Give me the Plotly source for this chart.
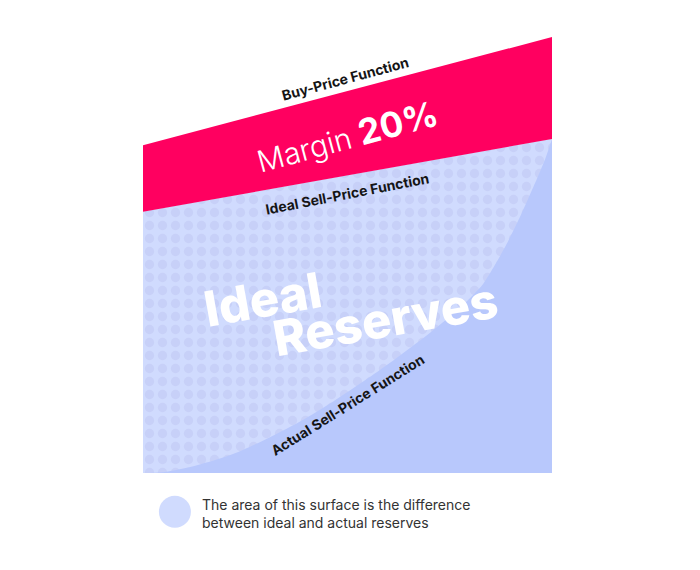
import plotly.graph_objects as go

# values (x: 0-100 across the chart, y: 0-100 price scale)
edge_x = [0, 100]
buy_price = [75.2, 100]
ideal_sell = [59.9, 76.6]

actual_x = [0, 4.9, 13.2, 21.0, 29.3, 38.4, 46.5, 54.8, 62.0, 70.5, 76.0, 80.8,
            83.2, 86.1, 88.9, 91.8, 94.3, 96.5, 98.4, 100]
actual_sell = [0, 0.2, 1.8, 4.0, 7.4, 11.8, 16.4, 21.6, 26.4, 32.4, 36.7, 40.9,
               43.4, 47.8, 52.5, 58.0, 63.2, 67.9, 72.2, 76.6]

PINK = "#FF0060"
LIGHT = "#D0DBFE"
DOTS = "#C7D0F8"
DARK = "#B8C8FC"
FONT = "Inter"

fig = go.Figure()

# whole area under the ideal sell-price line (actual reserves)
fig.add_trace(go.Scatter(x=edge_x, y=ideal_sell, mode="lines", line=dict(width=0),
                         fill="tozeroy", fillcolor=DARK, hoverinfo="skip"))
# actual sell-price curve
fig.add_trace(go.Scatter(x=actual_x, y=actual_sell, mode="lines",
                         line=dict(width=0, shape="spline", smoothing=0.8),
                         hoverinfo="skip"))
# difference between ideal and actual (dotted)
fig.add_trace(go.Scatter(x=edge_x, y=ideal_sell, mode="lines", line=dict(width=0),
                         fill="tonexty", fillcolor=LIGHT,
                         fillpattern=dict(shape=".", bgcolor=LIGHT, fgcolor=DOTS,
                                          size=13, solidity=0.4, fillmode="replace"),
                         hoverinfo="skip"))
# margin band
fig.add_trace(go.Scatter(x=edge_x, y=buy_price, mode="lines", line=dict(width=0),
                         fill="tonexty", fillcolor=PINK, hoverinfo="skip"))

dark_txt = dict(family=FONT, size=14, color="#151515", weight=700)

fig.add_annotation(x=49.4, y=90.4, text="Buy-Price Function", textangle=-15,
                   showarrow=False, font=dark_txt)
fig.add_annotation(x=49.9, y=77.3,
                   text="<span style='font-size:30px'>Margin</span> <b style='font-size:35px'>20%</b>",
                   textangle=-15, showarrow=False,
                   font=dict(family=FONT, size=30, color="white", weight=300))
fig.add_annotation(x=49.9, y=64.2, text="Ideal Sell-Price Function", textangle=-11,
                   showarrow=False, font=dark_txt)
fig.add_annotation(x=29.3, y=39.7, text="Ideal", textangle=-10, showarrow=False,
                   font=dict(family=FONT, size=49, color="white", weight=800))
fig.add_annotation(x=59.2, y=35.1, text="Reserves", textangle=-10, showarrow=False,
                   font=dict(family=FONT, size=49, color="white", weight=800))
fig.add_annotation(x=50.1, y=15.6, text="Actual Sell-Price Function", textangle=-32,
                   showarrow=False, font=dark_txt)

# legend swatch + note
fig.add_shape(type="circle", xref="paper", yref="paper", xsizemode="pixel", ysizemode="pixel",
              xanchor=0.078, yanchor=-0.089, x0=-16, x1=16, y0=-16, y1=16,
              fillcolor=LIGHT, line=dict(width=0))
fig.add_annotation(xref="paper", yref="paper", x=0.139, y=-0.092, xanchor="left", yanchor="middle",
                   align="left", showarrow=False,
                   text="The area of this surface is the difference<br>between ideal and actual reserves",
                   font=dict(family=FONT, size=14, color="#333333"))

fig.update_xaxes(range=[0, 100], visible=False, fixedrange=True)
fig.update_yaxes(range=[0, 100], visible=False, fixedrange=True)
# page body adds 8px, so margins are 8px smaller on the left/top
fig.update_layout(width=700, height=570, showlegend=False,
                  margin=dict(l=135, r=156, t=29, b=105),
                  paper_bgcolor="white", plot_bgcolor="white")

fig.write_html("out.html")
